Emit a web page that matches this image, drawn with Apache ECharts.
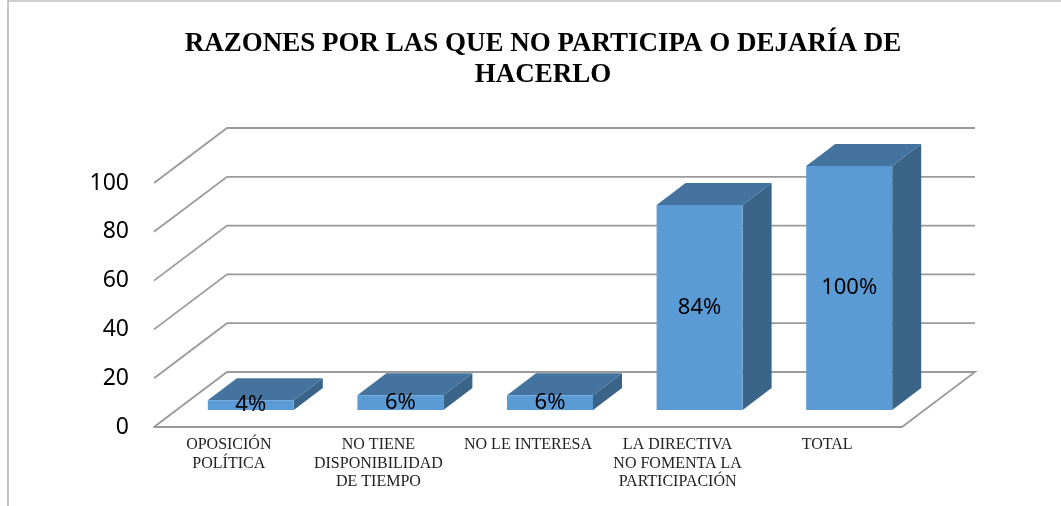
<!DOCTYPE html>
<html>
<head>
<meta charset="utf-8">
<style>
  html, body { margin: 0; padding: 0; background: #fff; }
  #chart { width: 1061px; height: 506px; }
</style>
<script src="https://cdn.jsdelivr.net/npm/echarts@6/dist/echarts.min.js"></script>
</head>
<body>
<div id="chart"></div>
<script>
const titleText = 'RAZONES POR LAS QUE NO PARTICIPA O DEJARÍA DE\nHACERLO';
const categories = [
  'OPOSICIÓN\nPOLÍTICA',
  'NO TIENE\nDISPONIBILIDAD\nDE TIEMPO',
  'NO LE INTERESA',
  'LA DIRECTIVA\nNO FOMENTA LA\nPARTICIPACIÓN',
  'TOTAL'
];
const percentages = [4, 6, 6, 84, 100];
const yTicks = [0, 20, 40, 60, 80, 100];

// falsa perspectiva del grafico 3D
const WALL_DX = 73, WALL_DY = 55;
const BAR_WIDTH = 86, BAR_DX = 22, BAR_DY = 17, DEPTH_X = 29, DEPTH_Y = 22;
const GRID_LINE = { stroke: '#9a9a9a', lineWidth: 1.8, fill: 'none' };

const chart = echarts.init(document.getElementById('chart'));

// paredes: una linea quebrada por cada tick del eje Y
function renderWall(params, api) {
  const cs = params.coordSys;
  const y = api.coord([0, api.value(0)])[1];
  const left = cs.x, right = cs.x + cs.width;
  const points = [[left, y], [left + WALL_DX, y - WALL_DY], [right + WALL_DX, y - WALL_DY]];
  if (api.value(0) === 0) points.push([right, y]);
  return { type: 'polyline', shape: { points }, style: GRID_LINE };
}

function renderBar(params, api) {
  const base = api.coord([api.value(0), 0]);
  const top = api.coord([api.value(0), api.value(1)]);
  const x0 = base[0] + BAR_DX - BAR_WIDTH / 2;
  const x1 = x0 + BAR_WIDTH;
  const yb = base[1] - BAR_DY;
  const yt = top[1] - BAR_DY;
  return {
    type: 'group',
    children: [
      {
        type: 'polygon',
        shape: { points: [[x1, yt], [x1 + DEPTH_X, yt - DEPTH_Y], [x1 + DEPTH_X, yb - DEPTH_Y], [x1, yb]] },
        style: { fill: '#3a6488' }
      },
      {
        type: 'polygon',
        shape: { points: [[x0, yt], [x0 + DEPTH_X, yt - DEPTH_Y], [x1 + DEPTH_X, yt - DEPTH_Y], [x1, yt]] },
        style: { fill: '#44739f' }
      },
      {
        type: 'rect',
        shape: { x: x0, y: yt, width: BAR_WIDTH, height: yb - yt },
        style: { fill: '#5b9bd5' }
      },
      {
        type: 'text',
        style: {
          x: (x0 + x1) / 2,
          y: (yt + yb) / 2,
          text: api.value(1) + '%',
          align: 'center',
          verticalAlign: 'middle',
          fill: '#000',
          font: '22px "Noto Sans"'
        }
      }
    ]
  };
}

chart.setOption({
  animation: false,
  backgroundColor: '#fff',
  title: {
    text: titleText,
    left: 538,
    top: 24,
    textAlign: 'center',
    textStyle: {
      fontFamily: 'Liberation Serif',
      fontWeight: 'bold',
      fontSize: 27,
      lineHeight: 31,
      color: '#000'
    }
  },
  graphic: [{
    type: 'polyline',
    silent: true,
    shape: { points: [[8, 506], [8, 1], [1061, 1]] },
    style: { stroke: '#a0a0a0', lineWidth: 1.2, fill: 'none' }
  }],
  grid: { left: 154, right: 159, top: 183, bottom: 79 },
  xAxis: {
    type: 'category',
    data: categories,
    axisLine: { show: true, lineStyle: { color: '#9a9a9a', width: 1.8 } },
    axisTick: { show: false },
    axisLabel: {
      interval: 0,
      margin: 9,
      fontFamily: 'Liberation Serif',
      fontSize: 16,
      lineHeight: 18.5,
      color: '#222'
    }
  },
  yAxis: {
    type: 'value',
    min: 0,
    max: 100,
    interval: 20,
    axisLine: { show: false },
    axisTick: { show: false },
    splitLine: { show: false },
    axisLabel: { margin: 25, fontFamily: 'Noto Sans', fontSize: 23, color: '#000' }
  },
  series: [
    {
      type: 'custom',
      silent: true,
      z: 1,
      renderItem: renderWall,
      encode: { y: 0 },
      data: yTicks.map(v => [v])
    },
    {
      type: 'custom',
      z: 2,
      renderItem: renderBar,
      encode: { x: 0, y: 1 },
      data: percentages.map((v, i) => [i, v])
    }
  ]
});
</script>
</body>
</html>
